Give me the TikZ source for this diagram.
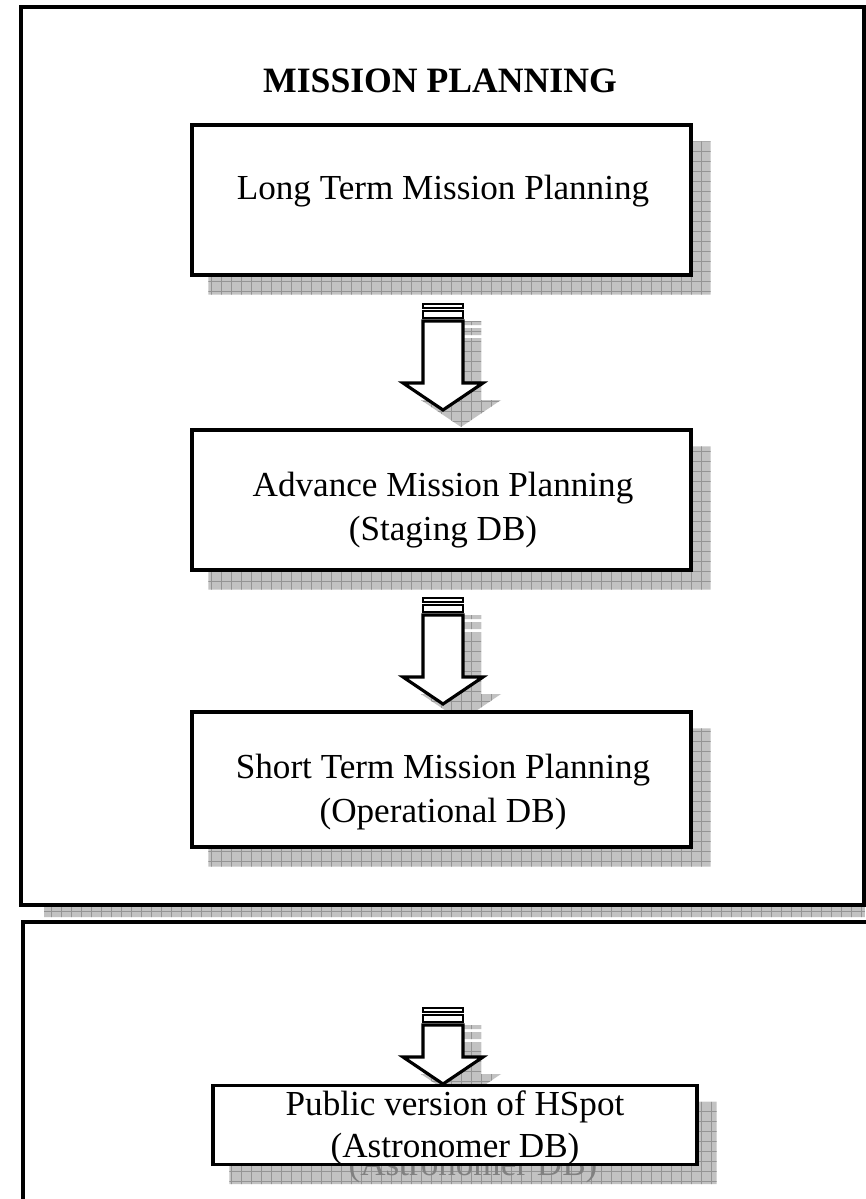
\documentclass[tikz,border=0pt]{standalone}
\usepackage{fontspec}
\setmainfont{Liberation Serif}
\usetikzlibrary{positioning}
\pgfdeclarelayer{bg}
\pgfsetlayers{bg,main}

\tikzset{
	stage/.style={draw=black, line width=1.8pt, fill=white, inner sep=0pt},
	stagetext/.style={align=center, inner sep=0pt, font=\fontsize{20}{25}\selectfont},
	hollow/.style={draw=black, line width=1.8pt, fill=white, line join=miter},
	band/.style={draw=black, line width=1.1pt, fill=white},
	shadefill/.style={fill=black!24},
	shadeline/.style={draw=black!42, line width=0.5pt}
}

\begin{document}
\begin{tikzpicture}[x=0.02cm, y=-0.02cm]
	\useasboundingbox (0,0) rectangle (865,1199);
	\draw[line width=1.8pt] (21,7) rectangle (864,905);
	\draw[line width=1.8pt] (23,922) rectangle (900,1260);
	\node[font=\fontsize{20.3}{25}\selectfont\bfseries, inner sep=0pt] (title) at (440,81) {MISSION PLANNING};
	\node[stage, minimum width=9.98cm, minimum height=3cm] (ltmp) at (441.5,200) {};
	\node[stage, minimum width=9.98cm, minimum height=2.8cm] (amp) at (441.5,500) {};
	\node[stage, minimum width=9.98cm, minimum height=2.7cm] (stmp) at (441.5,779.5) {};
	\node[stage, minimum width=9.68cm, minimum height=1.58cm] (hspot) at (455,1125) {};
	\node[stagetext] (ltmp-t) at (443,191) {Long Term Mission Planning};
	\node[stagetext] (amp-t) at (443,510) {Advance Mission Planning\\(Staging DB)};
	\node[stagetext] (stmp-t) at (443,792) {Short Term Mission Planning\\(Operational DB)};
	\node[stagetext, font=\fontsize{20}{24}\selectfont] (hspot-t) at (455,1128) {Public version of HSpot\\(Astronomer DB)};
	\foreach \t/\h in {304/79, 598/79, 1008/49} {
		\draw[band] (423,\t) rectangle (463,\t+4);
		\draw[band] (423,\t+7) rectangle (463,\t+14);
		\draw[hollow] (423,\t+17) -- (423,\t+\h) -- (403,\t+\h) -- (443,\t+\h+27) -- (483,\t+\h) -- (463,\t+\h) -- (463,\t+17) -- cycle;
	}
	\begin{pgfonlayer}{bg}
		\begin{scope}
			\clip (44,905) rectangle (865,917)
				foreach \b in {ltmp, amp, stmp, hspot} {([shift={(18,18)}]\b.south west) rectangle ([shift={(18,18)}]\b.north east)}
				foreach \t/\h in {304/79, 598/79, 1008/49} {
					(441,\t+17) rectangle (481,\t+21)
					(441,\t+24) rectangle (481,\t+31)
					(441,\t+34) -- (441,\t+\h+17) -- (421,\t+\h+17) -- (461,\t+\h+44) -- (501,\t+\h+17) -- (481,\t+\h+17) -- (481,\t+34) -- cycle
				};
			\fill[shadefill] (0,0) rectangle (865,1199);
			\foreach \g in {1,11,...,1191} {
				\draw[shadeline] (\g,0) -- (\g,1199);
				\draw[shadeline] (0,\g) -- (865,\g);
			}
		\end{scope}
		\node[stagetext, font=\fontsize{20}{24}\selectfont, text=black!50] (hspot-s) at ([shift={(18,18)}]hspot-t) {Public version of HSpot\\(Astronomer DB)};
	\end{pgfonlayer}
\end{tikzpicture}
\end{document}
